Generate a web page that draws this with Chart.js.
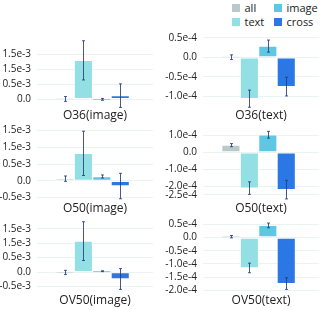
<!DOCTYPE html>
<html><head><meta charset="utf-8">
<script src="https://cdn.jsdelivr.net/npm/chart.js@4.4.0/dist/chart.umd.min.js"></script>
<style>
html,body{margin:0;padding:0;background:#fff;width:324px;height:310px;overflow:hidden;position:relative;font-family:'Open Sans',sans-serif;}
canvas{position:absolute;}
.lg{position:absolute;font-size:11px;color:#222;line-height:14px;white-space:nowrap;}
.lg i{position:absolute;width:8px;height:8px;top:3px;}
</style></head><body>
<div id="legend"></div>
<script>
// ---- data ----
const categories = ['all', 'text', 'image', 'cross'];
const colors = ['#b9c9c9', '#93e0e4', '#5fc6e4', '#2b77e3'];
const titles = ['O36(image)', 'O36(text)', 'O50(image)', 'O50(text)', 'OV50(image)', 'OV50(text)'];

const o36ImageValues = [0.01e-3, 1.29e-3, -0.005e-3, 0.12e-3];
const o36ImageErrors = [0.08e-3, 0.65e-3, 0.03e-3, 0.39e-3];
const o36TextValues  = [0.005e-4, -1.06e-4, 0.29e-4, -0.75e-4];
const o36TextErrors  = [0.06e-4, 0.22e-4, 0.155e-4, 0.24e-4];
const o50ImageValues = [0.065e-3, 0.82e-3, 0.13e-3, -0.155e-3];
const o50ImageErrors = [0.08e-3, 0.66e-3, 0.045e-3, 0.38e-3];
const o50TextValues  = [0.42e-4, -2.1e-4, 1.03e-4, -2.19e-4];
const o50TextErrors  = [0.09e-4, 0.365e-4, 0.2e-4, 0.545e-4];
const ov50ImageValues = [-0.01e-3, 1.07e-3, 0.03e-3, -0.24e-3];
const ov50ImageErrors = [0.07e-3, 0.67e-3, 0.015e-3, 0.36e-3];
const ov50TextValues  = [0.03e-4, -1.15e-4, 0.455e-4, -1.74e-4];
const ov50TextErrors  = [0.045e-4, 0.18e-4, 0.09e-4, 0.22e-4];

const o36ImageTicks = [0, 0.5e-3, 1.0e-3, 1.5e-3];
const o36ImageTickLabels = ['0.0', '0.5e-3', '1.5e-3', '1.5e-3'];
const imageTicks = [-0.5e-3, 0, 0.5e-3, 1.0e-3, 1.5e-3];
const imageTickLabels = ['-0.5e-3', '0.0', '0.5e-3', '1.5e-3', '1.5e-3'];
const o36TextTicks = [-1.0e-4, -0.5e-4, 0, 0.5e-4];
const o36TextTickLabels = ['-1.0e-4', '-0.5e-4', '0.0', '0.5e-4'];
const o50TextTicks = [-2.5e-4, -2.0e-4, -1.0e-4, 0, 1.0e-4];
const o50TextTickLabels = ['-2.5e-4', '-2.0e-4', '-1.0e-4', '0.0', '1.0e-4'];
const ov50TextTicks = [-2.0e-4, -1.5e-4, -1.0e-4, -0.5e-4, 0, 0.5e-4];
const ov50TextTickLabels = ['-2.0e-4', '-1.5e-4', '-1.0e-4', '-0.5e-4', '0.0', '0.5e-4'];

// ---- layout ----
const panels = [
  {values: o36ImageValues, errors: o36ImageErrors, ticks: o36ImageTicks, labels: o36ImageTickLabels,
   left: 0, top: 24, w: 160, h: 102, axisW: 37, padR: 7, padB: 2.5, min: -0.3065e-3, max: 2.0968e-3},
  {values: o36TextValues, errors: o36TextErrors, ticks: o36TextTicks, labels: o36TextTickLabels,
   left: 162, top: 23, w: 162, h: 103, axisW: 41, padR: 5, padB: 2.5, min: -1.3125e-4, max: 0.575e-4},
  {values: o50ImageValues, errors: o50ImageErrors, ticks: imageTicks, labels: imageTickLabels,
   left: 0, top: 114, w: 160, h: 104, axisW: 37, padR: 7, padB: 2.1, min: -0.5988e-3, max: 1.6366e-3},
  {values: o50TextValues, errors: o50TextErrors, ticks: o50TextTicks, labels: o50TextTickLabels,
   left: 162, top: 114, w: 162, h: 104, axisW: 41, padR: 5, padB: 2.1, min: -2.851e-4, max: 1.543e-4},
  {values: ov50ImageValues, errors: ov50ImageErrors, ticks: imageTicks, labels: imageTickLabels,
   left: 0, top: 206, w: 160, h: 104, axisW: 37, padR: 7, padB: 1.5, min: -0.741e-3, max: 1.869e-3},
  {values: ov50TextValues, errors: ov50TextErrors, ticks: ov50TextTicks, labels: ov50TextTickLabels,
   left: 162, top: 206, w: 162, h: 104, axisW: 41, padR: 5, padB: 1.5, min: -2.114e-4, max: 0.735e-4}
];

Chart.defaults.font.family = "'Open Sans', sans-serif";
Chart.defaults.color = '#222';

const errorBars = {
  id: 'errorBars',
  afterDatasetsDraw(chart, args, opts) {
    const ctx = chart.ctx, y = chart.scales.y;
    const meta = chart.getDatasetMeta(0);
    const ds = chart.data.datasets[0];
    ctx.save();
    ctx.strokeStyle = opts.color;
    ctx.lineWidth = opts.width;
    meta.data.forEach((bar, i) => {
      const v = ds.data[i].y, e = ds.errors[i];
      const x = Math.round(bar.x) + 0.5;
      const yt = y.getPixelForValue(v + e), yb = y.getPixelForValue(v - e);
      ctx.beginPath();
      ctx.moveTo(x, yt); ctx.lineTo(x, yb);
      ctx.moveTo(x - opts.cap, yt); ctx.lineTo(x + opts.cap, yt);
      ctx.moveTo(x - opts.cap, yb); ctx.lineTo(x + opts.cap, yb);
      ctx.stroke();
    });
    ctx.restore();
  }
};

panels.forEach((p, k) => {
  const cv = document.createElement('canvas');
  cv.width = p.w; cv.height = p.h;
  cv.style.left = p.left + 'px'; cv.style.top = p.top + 'px';
  cv.style.width = p.w + 'px'; cv.style.height = p.h + 'px';
  document.body.appendChild(cv);
  new Chart(cv, {
    type: 'bar',
    data: {
      datasets: [{
        data: p.values.map((v, i) => ({x: i, y: v})),
        errors: p.errors,
        backgroundColor: colors,
        borderColor: 'rgba(255,255,255,0.5)',
        borderWidth: 1,
        borderSkipped: false,
        categoryPercentage: 1,
        barPercentage: 1
      }]
    },
    options: {
      responsive: false,
      animation: false,
      devicePixelRatio: 1,
      layout: {padding: {top: 10, left: 0, right: p.padR, bottom: p.padB}},
      plugins: {
        legend: {display: false},
        tooltip: {enabled: false},
        title: {display: true, text: titles[k], position: 'bottom', fullSize: false,
                padding: {top: 0, bottom: 0}, color: '#222',
                font: {size: 12, weight: 'normal', lineHeight: 1.25}},
        errorBars: {color: 'rgba(40,58,125,0.85)', width: 1, cap: 1.5}
      },
      scales: {
        x: {type: 'linear', display: false, min: -0.73, max: 3.99,
            afterBuildTicks(s) { s.ticks = categories.map((c, i) => ({value: i})); }},
        y: {
          min: p.min, max: p.max, bounds: 'data',
          afterFit(s) { s.width = p.axisW; },
          afterBuildTicks(s) { s.ticks = p.ticks.map(v => ({value: v})); },
          ticks: {autoSkip: false, padding: 6, font: {size: 10}, color: '#222',
                  callback: (v, i) => p.labels[i]},
          grid: {color: '#eaf2f2', drawTicks: false, lineWidth: 1},
          border: {display: false}
        }
      }
    },
    plugins: [errorBars]
  });
});

// legend (2 columns: all/text, image/cross)
const lg = document.getElementById('legend');
categories.forEach((c, i) => {
  const col = Math.floor(i / 2), row = i % 2;
  const d = document.createElement('div');
  d.className = 'lg';
  d.style.left = (232 + col * 42) + 'px';
  d.style.top = (0.5 + row * 14.5) + 'px';
  d.innerHTML = '<i style="left:0;background:' + colors[i] + '"></i><span style="margin-left:12.5px">' + c + '</span>';
  lg.appendChild(d);
});
</script>
</body></html>
